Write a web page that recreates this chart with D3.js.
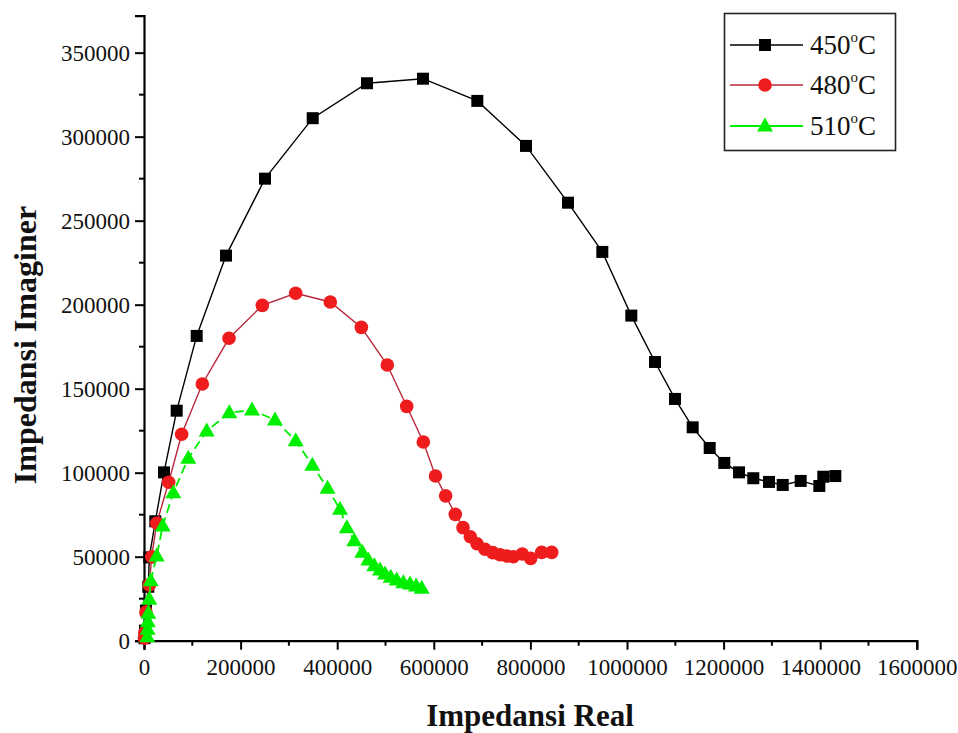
<!DOCTYPE html>
<html>
<head>
<meta charset="utf-8">
<script src="https://cdn.jsdelivr.net/npm/d3@7/dist/d3.min.js"></script>
<style>
  html, body { margin: 0; padding: 0; background: #fff; }
  svg { display: block; font-family: "Liberation Serif", "Times New Roman", serif; }
</style>
</head>
<body>
<svg id="chart" width="958" height="733"></svg>
<script>
// Nyquist impedance data: [Z real, Z imaginary] for each sintering temperature
const seriesNames = ["450", "480", "510"];

const data450 = [
  [1000, 1500], [2000, 6000], [4000, 18000], [8900, 32100], [11000, 49600],
  [23400, 71100], [41400, 100200], [67700, 136900], [109100, 181400], [169800, 229200],
  [250500, 275000], [349300, 311000], [461700, 331800], [577600, 334500], [690100, 321300],
  [790900, 294500], [877800, 260700], [948900, 231400], [1008900, 193500], [1058000, 165900],
  [1099400, 143900], [1136000, 127000], [1171200, 114700], [1201400, 105800], [1231900, 100200],
  [1261500, 96700], [1294000, 94500], [1322400, 92700], [1359600, 95100], [1398200, 92100],
  [1406400, 97600], [1431300, 98000]
];

const data480 = [
  [1000, 1500], [2000, 5000], [4100, 17000], [11000, 33200], [15900, 50000],
  [26300, 69900], [51100, 94300], [78000, 122900], [120700, 152800], [176000, 180000],
  [245000, 199600], [314100, 206800], [385700, 201600], [450000, 186500], [503700, 164100],
  [543900, 139500], [578300, 118300], [603500, 98000], [624500, 86200], [644500, 75200],
  [660500, 67300], [675600, 61900], [689500, 57700], [706000, 54400], [721900, 52400],
  [737000, 51200], [750900, 50400], [764600, 50000], [783200, 51600], [800600, 49000],
  [823400, 52600], [844100, 52600]
];

const data510 = [
  [6800, 2400], [7600, 6800], [8000, 11300], [8900, 16300], [11000, 24600],
  [13900, 35700], [26300, 50400], [38700, 68300], [60700, 88100], [91700, 108600],
  [129800, 124800], [176600, 135700], [223600, 137300], [271200, 131400], [314100, 119000],
  [348500, 104400], [380000, 90800], [405800, 78200], [420000, 67300], [435400, 59500],
  [452000, 52600], [464400, 48000], [476800, 44600], [488600, 42100], [499000, 39700],
  [510800, 37700], [523200, 36100], [536900, 34500], [550700, 33700], [563200, 32600],
  [574900, 31200]
];

const xTicks = [0, 200000, 400000, 600000, 800000, 1000000, 1200000, 1400000, 1600000];
const yTicks = [0, 50000, 100000, 150000, 200000, 250000, 300000, 350000];
const xMinorTicks = [100000, 300000, 500000, 700000, 900000, 1100000, 1300000, 1500000];
const yMinorTicks = [25000, 75000, 125000, 175000, 225000, 275000, 325000];

const xTitle = "Impedansi Real";
const yTitle = "Impedansi Imaginer";

const svg = d3.select("#chart");

const x = d3.scaleLinear().domain([0, 1600000]).range([144, 916.8]);
const y = d3.scaleLinear().domain([0, 372000]).range([640.7, 15.7]);

// Axes
const xAxis = d3.axisBottom(x).tickValues(xTicks).tickFormat(d3.format("d")).tickSize(9).tickPadding(4);
const yAxis = d3.axisLeft(y).tickValues(yTicks).tickFormat(d3.format("d")).tickSize(9).tickPadding(5);

const gx = svg.append("g").attr("transform", `translate(0,${y(0)})`).call(xAxis);
const gy = svg.append("g").attr("transform", `translate(${x(0)},0)`).call(yAxis);

[gx, gy].forEach(g => {
  g.select(".domain").attr("stroke", "#000").attr("stroke-width", 2.2);
  g.selectAll(".tick line").attr("stroke", "#000").attr("stroke-width", 2);
  g.selectAll(".tick text")
    .attr("fill", "#111")
    .style("font-family", "'Liberation Serif', serif")
    .style("font-size", "23px");
});
gx.selectAll(".tick text").attr("dy", "0.92em");

// Minor ticks
svg.append("g").selectAll("line").data(xMinorTicks).join("line")
  .attr("x1", d => x(d)).attr("x2", d => x(d))
  .attr("y1", y(0)).attr("y2", y(0) + 5)
  .attr("stroke", "#000").attr("stroke-width", 2);
svg.append("g").selectAll("line").data(yMinorTicks).join("line")
  .attr("x1", x(0) - 5).attr("x2", x(0))
  .attr("y1", d => y(d)).attr("y2", d => y(d))
  .attr("stroke", "#000").attr("stroke-width", 2);

// Axis titles
svg.append("text")
  .attr("x", 530).attr("y", 726)
  .attr("text-anchor", "middle")
  .style("font-size", "31px").style("font-weight", "bold")
  .attr("fill", "#111")
  .text(xTitle);

svg.append("text")
  .attr("transform", `translate(36,345) rotate(-90)`)
  .attr("text-anchor", "middle")
  .style("font-size", "32px").style("font-weight", "bold")
  .attr("fill", "#111")
  .text(yTitle);

// Series drawing
const line = d3.line().x(d => x(d[0])).y(d => y(d[1]));

const styles = [
  { data: data450, line: "#000", fill: "#000", dash: null, width: 1.4, shape: "square" },
  { data: data480, line: "#b8283a", fill: "#ee1c1c", dash: null, width: 1.4, shape: "circle" },
  { data: data510, line: "#00ee00", fill: "#00ee00", dash: "9,5", width: 1.8, shape: "triangle" }
];

function drawMarker(g, shape, fill) {
  if (shape === "square") {
    g.append("rect").attr("x", -6).attr("y", -6).attr("width", 12).attr("height", 12).attr("fill", fill);
  } else if (shape === "circle") {
    g.append("circle").attr("r", 6.8).attr("fill", fill);
  } else {
    g.append("path").attr("d", "M0,-8.5 L8,5.5 L-8,5.5 Z").attr("fill", fill);
  }
}

styles.forEach(s => {
  svg.append("path")
    .datum(s.data)
    .attr("d", line)
    .attr("fill", "none")
    .attr("stroke", s.line)
    .attr("stroke-width", s.width)
    .attr("stroke-dasharray", s.dash);
  const gm = svg.append("g");
  gm.selectAll("g").data(s.data).join("g")
    .attr("transform", d => `translate(${x(d[0])},${y(d[1])})`)
    .each(function () { drawMarker(d3.select(this), s.shape, s.fill); });
});

// Legend
const legend = svg.append("g");
legend.append("rect")
  .attr("x", 724.5).attr("y", 13.5).attr("width", 171).attr("height", 137)
  .attr("fill", "#fff").attr("stroke", "#222").attr("stroke-width", 1.6);

const rowY = [45, 85, 126];
styles.forEach((s, i) => {
  const ry = rowY[i];
  legend.append("line")
    .attr("x1", 730).attr("x2", 803).attr("y1", ry).attr("y2", ry)
    .attr("stroke", s.line).attr("stroke-width", s.width);
  const m = legend.append("g").attr("transform", `translate(765,${ry})`);
  drawMarker(m, s.shape, s.fill);
  const t = legend.append("text")
    .attr("x", 810).attr("y", ry + 9)
    .style("font-size", "27px").attr("fill", "#111");
  t.append("tspan").text(seriesNames[i]);
  t.append("tspan").attr("dy", -12).style("font-size", "15px").text("o");
  t.append("tspan").attr("dy", 12).text("C");
});
</script>
</body>
</html>
